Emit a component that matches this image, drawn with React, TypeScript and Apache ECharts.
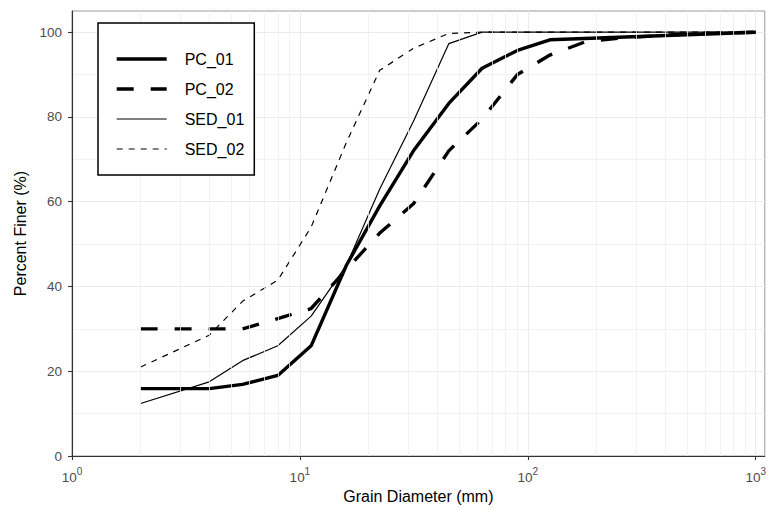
import React, { useEffect, useRef } from "react";
import * as echarts from "echarts";

const FONT = '"Liberation Sans", Arial, Helvetica, sans-serif';

// Grain size distributions (grain diameter in mm, percent finer)
const PC01_X = [2, 4, 5.6, 8, 11.2, 16, 22.4, 31.5, 45, 63, 90, 125, 1000];
const PC01_Y = [15.9, 15.9, 16.9, 19, 26, 45, 59, 72, 83.2, 91.5, 95.7, 98.2, 100];

const PC02_X = [2, 4, 5.6, 8, 11.2, 16, 22.4, 31.5, 45, 63, 90, 125, 180, 250, 500, 1000];
const PC02_Y = [30, 30, 30, 32.4, 34.8, 44, 52.6, 59.5, 72, 79.5, 90, 94.6, 97.8, 98.6, 99.6, 100];

const SED01_X = [2, 4, 5.6, 8, 11.2, 16, 22.4, 31.5, 45, 63, 1000];
const SED01_Y = [12.4, 17.5, 22.5, 26, 33, 45, 63, 79, 97.3, 100, 100];

const SED02_X = [2, 4, 5.6, 8, 11.2, 16, 22.4, 31.5, 45, 63, 1000];
const SED02_Y = [21, 28.5, 36.5, 41.5, 54, 74, 91, 96.2, 99.7, 100, 100];

const SERIES_NAMES = ["PC_01", "PC_02", "SED_01", "SED_02"];
const Y_TICKS = [0, 20, 40, 60, 80, 100];
const X_TICKS = [1, 10, 100, 1000];
const X_MINOR = [2, 3, 4, 5, 6, 7, 8, 9, 20, 30, 40, 50, 60, 70, 80, 90, 200, 300, 400, 500, 600, 700, 800, 900];

const pairs = (xs: number[], ys: number[]) => xs.map((x, i) => [x, ys[i]]);

const STYLES: Record<string, { width: number; type: any }> = {
  PC_01: { width: 3.4, type: "solid" },
  PC_02: { width: 3.4, type: [17, 17] },
  SED_01: { width: 1.2, type: "solid" },
  SED_02: { width: 1.2, type: [6, 6] },
};

export default function App() {
  const ref = useRef<HTMLDivElement>(null);
  useEffect(() => {
    const chart = echarts.init(ref.current!, null, { renderer: "svg" });
    const data: Record<string, number[][]> = {
      PC_01: pairs(PC01_X, PC01_Y),
      PC_02: pairs(PC02_X, PC02_Y),
      SED_01: pairs(SED01_X, SED01_Y),
      SED_02: pairs(SED02_X, SED02_Y),
    };
    const lineSeries = SERIES_NAMES.map((name) => ({
      name,
      type: "line",
      data: data[name],
      symbol: "none",
      showSymbol: false,
      z: 3,
      lineStyle: {
        color: "#000",
        width: STYLES[name].width,
        type: STYLES[name].type,
        join: "round",
      },
      itemStyle: { color: "#000" },
    }));
    chart.setOption({
      animation: false,
      backgroundColor: "#fff",
      textStyle: { fontFamily: FONT },
      grid: {
        left: 72,
        right: 3,
        top: 11,
        bottom: 54,
        show: true,
        borderColor: "#9a9a9a",
        borderWidth: 1,
        containLabel: false,
      },
      legend: {
        data: SERIES_NAMES.map((name) => ({
          name,
          itemStyle: { opacity: 0, borderWidth: 0 },
          lineStyle: { width: STYLES[name].width, type: STYLES[name].type, color: "#000", opacity: 1 },
        })),
        orient: "vertical",
        left: 98,
        top: 23,
        itemWidth: 50,
        itemHeight: 16,
        itemGap: 14,
        padding: [28, 10, 18, 17],
        backgroundColor: "#fff",
        borderColor: "#000",
        borderWidth: 1.5,
        borderRadius: 0,
        selectedMode: false,
        z: 10,
        textStyle: { fontSize: 16, color: "#000", fontFamily: FONT, padding: [0, 0, 0, 13] },
      },
      xAxis: {
        type: "log",
        logBase: 10,
        min: 1,
        max: 1096,
        name: "Grain Diameter (mm)",
        nameLocation: "middle",
        nameGap: 31,
        nameTextStyle: { fontSize: 16, color: "#000", fontFamily: FONT },
        axisLine: { show: true, lineStyle: { color: "#333", width: 1.1 } },
        axisTick: { show: true, length: 4, lineStyle: { color: "#333", width: 1.1 }, customValues: X_TICKS },
        axisLabel: {
          margin: 10,
          customValues: X_TICKS,
          formatter: (v: number) => `{b|10}{s|${Math.round(Math.log10(v))}}`,
          rich: {
            b: { fontSize: 13.5, lineHeight: 16, color: "#4d4d4d", fontFamily: FONT },
            s: { fontSize: 10, color: "#4d4d4d", fontFamily: FONT, padding: [0, 0, 12, 0] },
          },
        },
        splitLine: { show: true, lineStyle: { color: "#ebebeb", width: 1 } },
        minorTick: { show: false },
        minorSplitLine: { show: false },
      },
      yAxis: {
        type: "value",
        min: 0,
        max: 105,
        interval: 20,
        name: "Percent Finer (%)",
        nameLocation: "middle",
        nameGap: 44,
        nameTextStyle: { fontSize: 16, color: "#000", fontFamily: FONT },
        axisLine: { show: true, lineStyle: { color: "#333", width: 1.1 } },
        axisTick: { show: true, length: 4, lineStyle: { color: "#333", width: 1.1 }, customValues: Y_TICKS },
        axisLabel: {
          margin: 10,
          fontSize: 13.5,
          color: "#4d4d4d",
          fontFamily: FONT,
          customValues: Y_TICKS,
        },
        splitLine: { show: true, lineStyle: { color: "#ebebeb", width: 1 } },
        minorTick: { show: false, splitNumber: 2 },
        minorSplitLine: { show: true, lineStyle: { color: "#efefef", width: 0.8 } },
      },
      series: [
        {
          name: "minor-grid",
          type: "line",
          data: [[1, 0]],
          symbol: "none",
          silent: true,
          z: 1,
          lineStyle: { opacity: 0 },
          markLine: {
            silent: true,
            symbol: "none",
            animation: false,
            label: { show: false },
            lineStyle: { color: "#efefef", width: 0.8, type: "solid" },
            data: X_MINOR.map((v) => ({ xAxis: v })),
          },
        },
        ...lineSeries,
      ],
    });
    return () => chart.dispose();
  }, []);
  return (
    <div
      ref={ref}
      style={{ position: "fixed", left: 0, top: 0, width: 769, height: 510, background: "#fff" }}
    />
  );
}
